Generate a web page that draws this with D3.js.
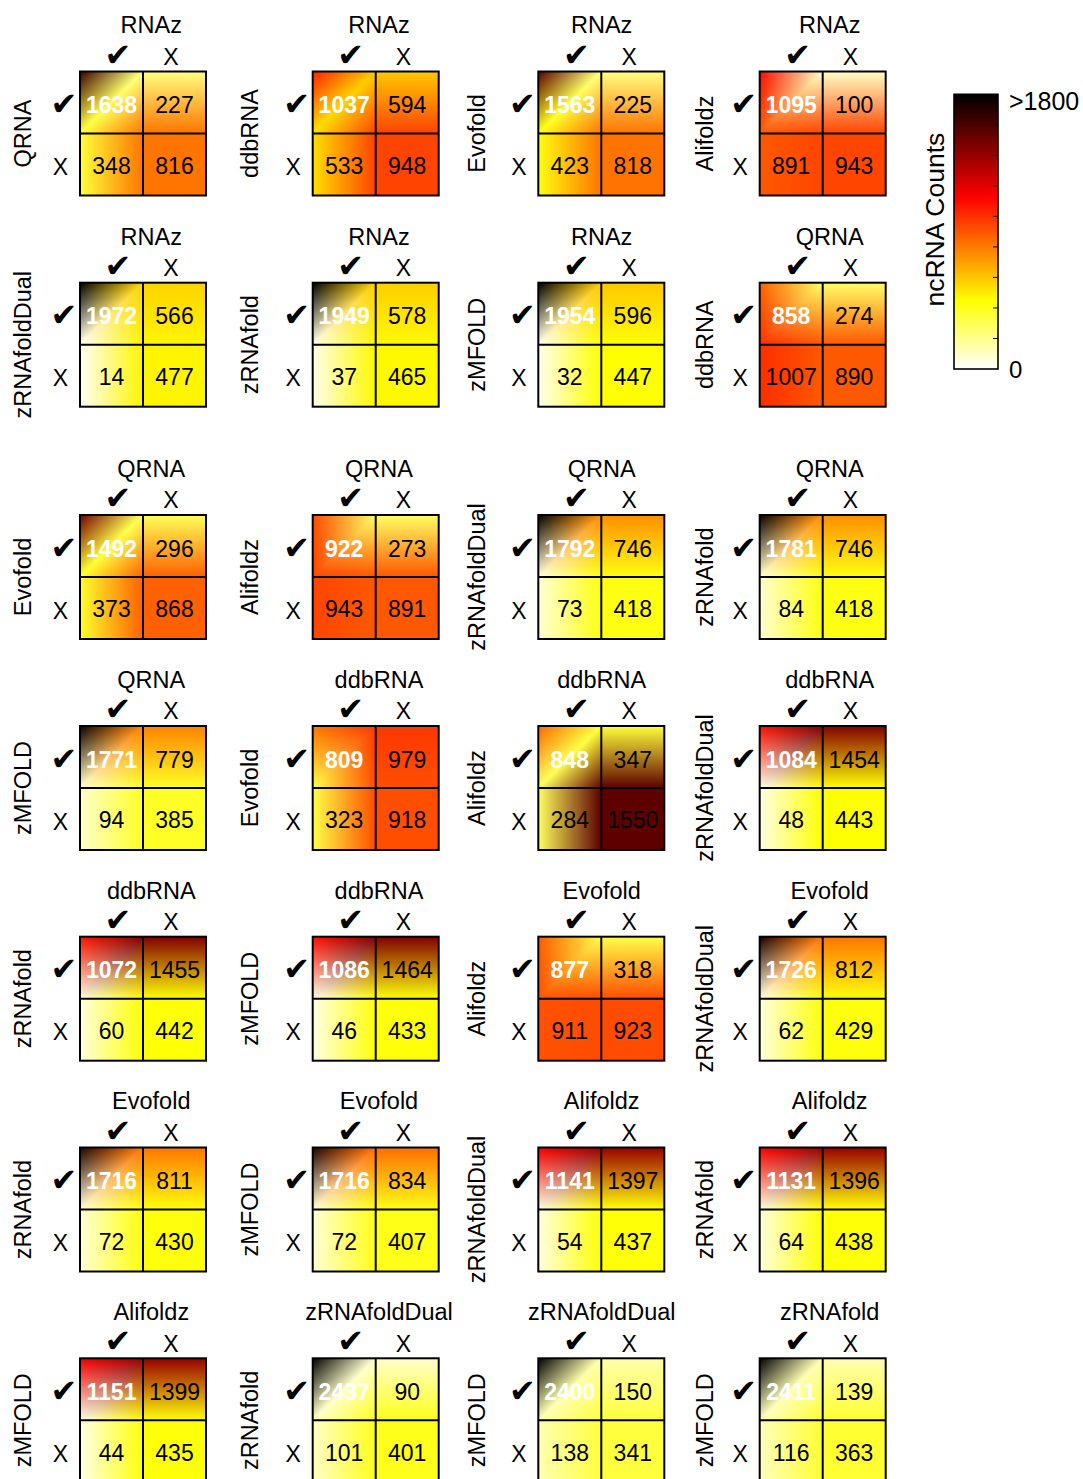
<!DOCTYPE html>
<html>
<head>
<meta charset="utf-8">
<script src="https://cdn.jsdelivr.net/npm/d3@7"></script>
<style>
  body { margin: 0; background: #ffffff; }
  svg { display: block; }
</style>
</head>
<body>
<svg id="chart" width="1083" height="1479"></svg>
<script>
// Pairwise agreement of ncRNA prediction tools: each 2x2 table counts loci
// found (✓) or missed (X) by the tool named on the left and the tool on top.
const columnTools = ["RNAz", "RNAz", "RNAz", "RNAz",
  "RNAz", "RNAz", "RNAz", "QRNA",
  "QRNA", "QRNA", "QRNA", "QRNA",
  "QRNA", "ddbRNA", "ddbRNA", "ddbRNA",
  "ddbRNA", "ddbRNA", "Evofold", "Evofold",
  "Evofold", "Evofold", "Alifoldz", "Alifoldz",
  "Alifoldz", "zRNAfoldDual", "zRNAfoldDual", "zRNAfold"];
const rowTools = ["QRNA", "ddbRNA", "Evofold", "Alifoldz",
  "zRNAfoldDual", "zRNAfold", "zMFOLD", "ddbRNA",
  "Evofold", "Alifoldz", "zRNAfoldDual", "zRNAfold",
  "zMFOLD", "Evofold", "Alifoldz", "zRNAfoldDual",
  "zRNAfold", "zMFOLD", "Alifoldz", "zRNAfoldDual",
  "zRNAfold", "zMFOLD", "zRNAfoldDual", "zRNAfold",
  "zMFOLD", "zRNAfold", "zMFOLD", "zMFOLD"];
// found by both tools
const bothFound = [1638, 1037, 1563, 1095,
  1972, 1949, 1954, 858,
  1492, 922, 1792, 1781,
  1771, 809, 848, 1084,
  1072, 1086, 877, 1726,
  1716, 1716, 1141, 1131,
  1151, 2437, 2400, 2411];
// found by the row tool only
const rowOnly = [227, 594, 225, 100,
  566, 578, 596, 274,
  296, 273, 746, 746,
  779, 979, 347, 1454,
  1455, 1464, 318, 812,
  811, 834, 1397, 1396,
  1399, 90, 150, 139];
// found by the column tool only
const columnOnly = [348, 533, 423, 891,
  14, 37, 32, 1007,
  373, 943, 73, 84,
  94, 323, 284, 48,
  60, 46, 911, 62,
  72, 72, 54, 64,
  44, 101, 138, 116];
// found by neither tool
const neitherFound = [816, 948, 818, 943,
  477, 465, 447, 890,
  868, 891, 418, 418,
  385, 918, 1550, 443,
  442, 433, 923, 429,
  430, 407, 437, 438,
  435, 401, 341, 363];
const stateLabels = ["✓", "X"];
const colorDomain = [0, 450, 1125, 1800];
const colorbarTicks = [200, 400, 600, 800, 1000, 1200, 1400, 1600];
const colorbarMinLabel = "0";
const colorbarMaxLabel = ">1800";
const colorbarTitle = "ncRNA Counts";

// ---- layout ----
const FONT = "'Liberation Sans', Arial, Helvetica, sans-serif";
const CHECK_FONT = "'DejaVu Sans', sans-serif";
const CHECK_SIZE = 32;
const panelW = 126, panelH = 124;
const panelLefts = [80, 312.7, 538.3, 759.7];
const panelTops = [71.5, 282.7, 515, 726, 936.7, 1147.5, 1358.3];
const titleCenters = [151.3, 379, 601.7, 829.7];
const rowLabelOffsets = [-49, -54.4, -53.3, -46.4];

const svg = d3.select("#chart");
svg.append("rect").attr("width", 1083).attr("height", 1479).attr("fill", "#ffffff");

// inverted "hot" colormap: white -> yellow -> red -> black
const color = d3.scaleLinear()
  .domain(colorDomain)
  .range(["#ffffff", "#ffff00", "#ff0000", "#000000"])
  .interpolate(d3.interpolateRgb)
  .clamp(true);

const xBand = d3.scaleBand().domain(stateLabels).range([0, panelW]);
const yBand = d3.scaleBand().domain(stateLabels).range([0, panelH]);

// Gouraud-shaded 2x2 table: vertex grid replicates the last row/column,
// each cell is split along its TR-BL diagonal and colours are blended in RGB.
function shadedImage(table) {
  const W = Math.round(panelW), H = Math.round(panelH);
  const canvas = document.createElement("canvas");
  canvas.width = W; canvas.height = H;
  const ctx = canvas.getContext("2d");
  const img = ctx.createImageData(W, H);
  const vert = [0, 1, 2].map(i => [0, 1, 2].map(j => {
    const c = d3.rgb(color(table[Math.min(i, 1)][Math.min(j, 1)]));
    return [c.r, c.g, c.b];
  }));
  const bw = xBand.bandwidth(), bh = yBand.bandwidth();
  for (let py = 0; py < H; py++) {
    const y = py + 0.5;
    const rj = y < bh ? 0 : 1;
    const v = Math.min(1, (y - rj * bh) / bh);
    for (let px = 0; px < W; px++) {
      const x = px + 0.5;
      const ci = x < bw ? 0 : 1;
      const u = Math.min(1, (x - ci * bw) / bw);
      const c00 = vert[rj][ci], c10 = vert[rj][ci + 1],
            c01 = vert[rj + 1][ci], c11 = vert[rj + 1][ci + 1];
      let w00, w10, w01, w11;
      if (u + v <= 1) { w00 = 1 - u - v; w10 = u; w01 = v; w11 = 0; }
      else { w00 = 0; w11 = u + v - 1; w10 = 1 - v; w01 = 1 - u; }
      const k = (py * W + px) * 4;
      for (let ch = 0; ch < 3; ch++) {
        img.data[k + ch] = Math.round(w00 * c00[ch] + w10 * c10[ch] + w01 * c01[ch] + w11 * c11[ch]);
      }
      img.data[k + 3] = 255;
    }
  }
  ctx.putImageData(img, 0, 0);
  return canvas.toDataURL();
}

const panels = bothFound.map((d, i) => ({
  index: i,
  col: i % 4,
  row: Math.floor(i / 4),
  top: columnTools[i],
  left: rowTools[i],
  table: [[bothFound[i], rowOnly[i]], [columnOnly[i], neitherFound[i]]]
}));

const g = svg.selectAll("g.panel").data(panels).join("g")
  .attr("class", "panel")
  .attr("transform", d => `translate(${panelLefts[d.col]},${panelTops[d.row]})`);

g.append("image")
  .attr("width", panelW).attr("height", panelH)
  .attr("preserveAspectRatio", "none")
  .attr("href", d => shadedImage(d.table));

// cell values
g.each(function (d) {
  const sel = d3.select(this);
  const cells = [];
  stateLabels.forEach((rs, r) => stateLabels.forEach((cs, c) => {
    cells.push({ r, c, rs, cs, value: d.table[r][c] });
  }));
  sel.selectAll("text.val").data(cells).join("text")
    .attr("class", "val")
    .attr("x", e => xBand(e.cs) + xBand.bandwidth() / 2)
    .attr("y", e => yBand(e.rs) + yBand.bandwidth() / 2 + (e.r === 0 ? 10.5 : 9.3))
    .attr("text-anchor", "middle")
    .attr("font-family", FONT)
    .attr("font-size", 23)
    .attr("font-weight", e => (e.r === 0 && e.c === 0) ? "bold" : "normal")
    .attr("fill", e => (e.r === 0 && e.c === 0) ? "#ffffff" : "#000000")
    .text(e => e.value);
});

// grid lines and frame
g.append("line")
  .attr("x1", xBand("X")).attr("x2", xBand("X"))
  .attr("y1", 0).attr("y2", panelH)
  .attr("stroke", "#000").attr("stroke-width", 2);
g.append("line")
  .attr("x1", 0).attr("x2", panelW)
  .attr("y1", yBand("X")).attr("y2", yBand("X"))
  .attr("stroke", "#000").attr("stroke-width", 2);
g.append("rect")
  .attr("width", panelW).attr("height", panelH)
  .attr("fill", "none").attr("stroke", "#000").attr("stroke-width", 2);

// column state labels (✓ / X) above the table
g.selectAll("text.colstate").data(stateLabels).join("text")
  .attr("class", "colstate")
  .attr("x", s => xBand(s) + xBand.bandwidth() / 2 + (s === "✓" ? 6.5 : -3.7))
  .attr("y", s => s === "✓" ? -6 : -6.7)
  .attr("text-anchor", "middle")
  .attr("font-family", s => s === "✓" ? CHECK_FONT : FONT)
  .attr("font-size", s => s === "✓" ? CHECK_SIZE : 23)
  .text(s => s === "✓" ? "✔" : s);

// row state labels (✓ / X) left of the table
g.selectAll("text.rowstate").data(stateLabels).join("text")
  .attr("class", "rowstate")
  .attr("x", s => s === "✓" ? -16 : -19.5)
  .attr("y", (s, k) => yBand(s) + yBand.bandwidth() / 2 + (k === 0 ? 12.5 : 10.8))
  .attr("text-anchor", "middle")
  .attr("font-family", s => s === "✓" ? CHECK_FONT : FONT)
  .attr("font-size", s => s === "✓" ? CHECK_SIZE : 23)
  .text(s => s === "✓" ? "✔" : s);

// tool on top
g.append("text")
  .attr("x", d => titleCenters[d.col] - panelLefts[d.col])
  .attr("y", -38.2)
  .attr("text-anchor", "middle")
  .attr("font-family", FONT)
  .attr("font-size", 23.5)
  .text(d => d.top);

// tool on the left (rotated)
g.append("text")
  .attr("transform", d => `translate(${rowLabelOffsets[d.col]},${panelH / 2}) rotate(-90)`)
  .attr("text-anchor", "middle")
  .attr("font-family", FONT)
  .attr("font-size", 23.5)
  .text(d => d.left);

// ---- colour bar ----
const cbX = 954, cbW = 44, cbTop = 94.3, cbBottom = 369;
const cbScale = d3.scaleLinear().domain([0, 1800]).range([cbBottom, cbTop]);

const defs = svg.append("defs");
const grad = defs.append("linearGradient")
  .attr("id", "cbGrad")
  .attr("x1", 0).attr("y1", 1).attr("x2", 0).attr("y2", 0);
grad.selectAll("stop").data(d3.range(0, 1801, 25)).join("stop")
  .attr("offset", v => v / 1800)
  .attr("stop-color", v => color(v));

svg.append("rect")
  .attr("x", cbX).attr("y", cbTop)
  .attr("width", cbW).attr("height", cbBottom - cbTop)
  .attr("fill", "url(#cbGrad)");

svg.selectAll("line.cbtick").data(colorbarTicks).join("line")
  .attr("class", "cbtick")
  .attr("x1", cbX + cbW).attr("x2", cbX + cbW - 5)
  .attr("y1", v => cbScale(v)).attr("y2", v => cbScale(v))
  .attr("stroke", "#000").attr("stroke-width", 1);

svg.append("rect")
  .attr("x", cbX).attr("y", cbTop)
  .attr("width", cbW).attr("height", cbBottom - cbTop)
  .attr("fill", "none").attr("stroke", "#000").attr("stroke-width", 1.6);

svg.append("text")
  .attr("x", 1009).attr("y", cbScale(1800) + 15.5)
  .attr("font-family", FONT).attr("font-size", 25)
  .text(colorbarMaxLabel);
svg.append("text")
  .attr("x", 1009).attr("y", cbScale(0) + 9)
  .attr("font-family", FONT).attr("font-size", 24)
  .text(colorbarMinLabel);
svg.append("text")
  .attr("transform", `translate(943.5,${(cbTop + cbBottom) / 2 - 12}) rotate(-90)`)
  .attr("text-anchor", "middle")
  .attr("font-family", FONT).attr("font-size", 26.5)
  .text(colorbarTitle);
</script>
</body>
</html>
